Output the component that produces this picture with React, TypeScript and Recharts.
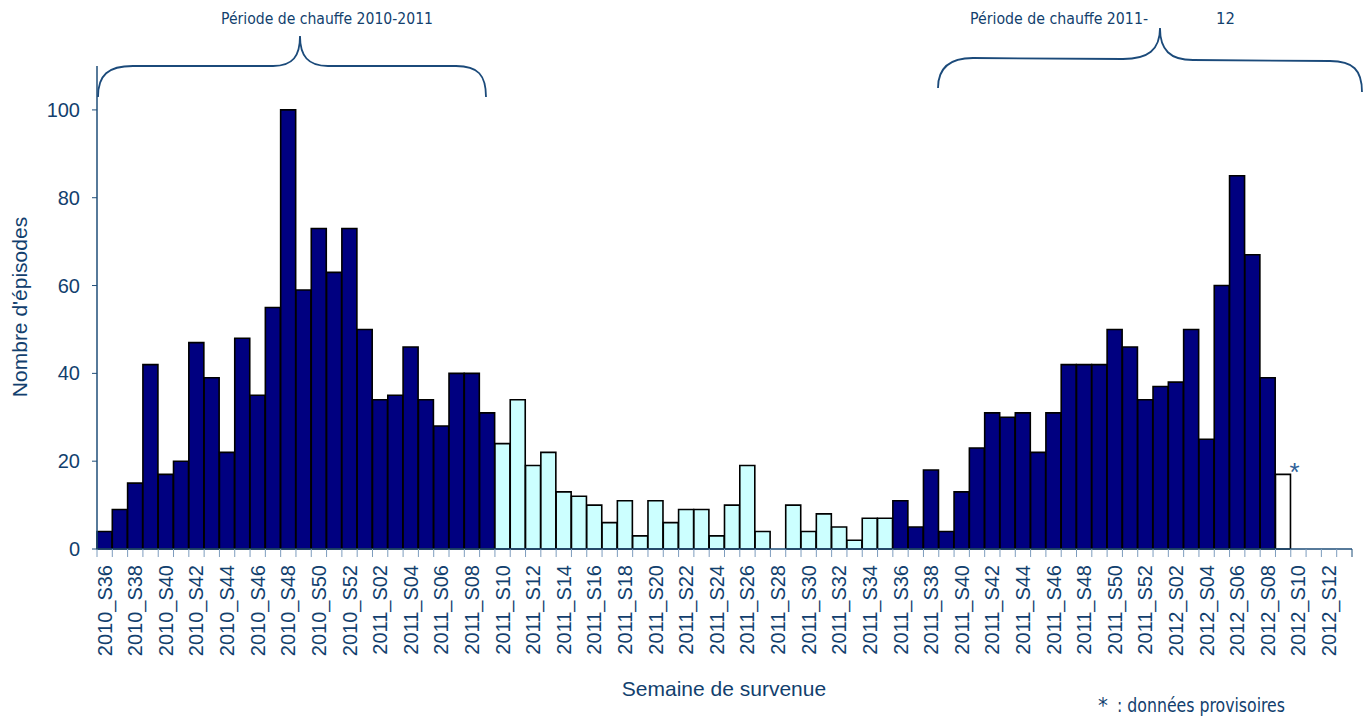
import React from "react"
import { BarChart, Bar, XAxis, YAxis, Cell, Rectangle } from "recharts"

// semaines de survenue (2010_S36 -> 2012_S13)
const weeks = [
  "2010_S36","2010_S37","2010_S38","2010_S39","2010_S40","2010_S41","2010_S42","2010_S43","2010_S44",
  "2010_S45","2010_S46","2010_S47","2010_S48","2010_S49","2010_S50","2010_S51","2010_S52",
  "2011_S01","2011_S02","2011_S03","2011_S04","2011_S05","2011_S06","2011_S07","2011_S08","2011_S09",
  "2011_S10","2011_S11","2011_S12","2011_S13","2011_S14","2011_S15","2011_S16","2011_S17","2011_S18",
  "2011_S19","2011_S20","2011_S21","2011_S22","2011_S23","2011_S24","2011_S25","2011_S26","2011_S27",
  "2011_S28","2011_S29","2011_S30","2011_S31","2011_S32","2011_S33","2011_S34","2011_S35","2011_S36",
  "2011_S37","2011_S38","2011_S39","2011_S40","2011_S41","2011_S42","2011_S43","2011_S44","2011_S45",
  "2011_S46","2011_S47","2011_S48","2011_S49","2011_S50","2011_S51","2011_S52",
  "2012_S01","2012_S02","2012_S03","2012_S04","2012_S05","2012_S06","2012_S07","2012_S08","2012_S09",
  "2012_S10","2012_S11","2012_S12","2012_S13",
]

const episodes2010 = [4, 9, 15, 42, 17, 20, 47, 39, 22, 48, 35, 55, 100, 59, 73, 63, 73]
const episodes2011 = [
  50, 34, 35, 46, 34, 28, 40, 40, 31, 24, 34, 19, 22, 13, 12, 10, 6, 11, 3, 11, 6, 9, 9, 3, 10, 19,
  4, 0, 10, 4, 8, 5, 2, 7, 7, 11, 5, 18, 4, 13, 23, 31, 30, 31, 22, 31, 42, 42, 42, 50, 46, 34,
]
const episodes2012 = [37, 38, 50, 25, 60, 85, 67, 39, 17, null, null, null, null]

const offSeasonStart = "2011_S10"
const season2Start = "2011_S36"
const provisional = ["2012_S09"]

const yTicks = [0, 20, 40, 60, 80, 100]

const values = [...episodes2010, ...episodes2011, ...episodes2012]
const data = weeks.map((w, i) => ({ week: w, value: values[i] }))

const NAVY = "#000080"
const CYAN = "#CCFFFF"
const TEXT = "#123F6E"
const AXIS = "#1F4E79"
const TICK = "#7D9CBD"

const W = 1363
const H = 702
const M = { top: 58, right: 19, bottom: 31, left: 29 }
const Y_W = 60
const X_H = 130
const PLOT_W = W - M.left - Y_W - M.right

const iOff = weeks.indexOf(offSeasonStart)
const iS2 = weeks.indexOf(season2Start)

function fillFor(i: number) {
  if (provisional.includes(weeks[i])) return "#FFFFFF"
  if (i >= iOff && i < iS2) return CYAN
  return NAVY
}

const XTick = (props: any) => {
  const { x, y, payload } = props
  const bw = PLOT_W / weeks.length
  const last = payload.value === weeks[weeks.length - 2]
  return (
    <g>
      <line x1={x - bw / 2} x2={x - bw / 2} y1={y} y2={y + 8} stroke={TICK} />
      <line x1={x + bw / 2} x2={x + bw / 2} y1={y} y2={y + 8} stroke={TICK} />
      {last && <line x1={x + bw * 1.5} x2={x + bw * 1.5} y1={y} y2={y + 8} stroke={AXIS} />}
      <text
        transform={`translate(${x},${y + 16}) rotate(-90)`}
        textAnchor="end"
        dominantBaseline="central"
        fontSize={20}
        fill={TEXT}
        fontFamily="'Liberation Sans', Arial, sans-serif"
      >
        {payload.value}
      </text>
    </g>
  )
}

// barre + astérisque pour les données provisoires
const BarShape = (props: any) => {
  const { x, y, width, payload } = props
  const star = payload && provisional.includes(payload.week)
  return (
    <g>
      <Rectangle {...props} />
      {star && (
        <text x={x + width + 4} y={y + 7} textAnchor="middle" fontSize={26} fill="#2F6199"
          fontFamily="'Liberation Sans', Arial, sans-serif">*</text>
      )}
    </g>
  )
}

const narrow = "'DejaVu Sans Condensed', 'Liberation Sans', sans-serif"

export default function App() {
  return (
    <div style={{ position: "relative", width: W, height: H + 8, fontFamily: "'Liberation Sans', Arial, sans-serif" }}>
      <BarChart width={W} height={H} data={data} margin={M} barCategoryGap={0}>
        <XAxis
          dataKey="week"
          interval={1}
          height={X_H}
          tick={<XTick />}
          tickLine={false}
          tickSize={0}
          tickMargin={0}
          axisLine={{ stroke: AXIS, strokeWidth: 1.5 }}
        />
        <YAxis
          width={Y_W}
          domain={[0, 110]}
          ticks={yTicks}
          tickSize={5}
          tickMargin={12}
          tickLine={{ stroke: AXIS }}
          axisLine={{ stroke: AXIS, strokeWidth: 1.5 }}
          tick={{ fontSize: 20, fill: TEXT }}
        />
        <Bar dataKey="value" stroke="#000" strokeWidth={1.6} isAnimationActive={false} shape={<BarShape />}>
          {data.map((d, i) => (
            <Cell key={d.week} fill={fillFor(i)} />
          ))}
        </Bar>
      </BarChart>
      <svg width={W} height={H + 8} style={{ position: "absolute", left: 0, top: 0, pointerEvents: "none" }}>
        <g fill="none" stroke="#1B4A7A" strokeWidth={1.8}>
          <path d="M90,89 C90,67 100,58 125,58 L265,58 C285,58 292,48 292,28 C292,48 300,58 320,58 L448,58 C470,58 478,67 478,89" />
          <path d="M930,80 C930,60 942,50 965,50 L1115,51 C1140,51 1152,42 1152,20 C1152,42 1162,52 1185,52 L1322,53 C1345,53 1354,62 1354,84" />
        </g>
        <g fill={TEXT} fontFamily={narrow} fontSize={16.5}>
          <text x={213} y={16} textLength={212} lengthAdjust="spacingAndGlyphs">Période de chauffe 2010-2011</text>
          <text x={962} y={16} textLength={178} lengthAdjust="spacingAndGlyphs">Période de chauffe 2011-</text>
          <text x={1208} y={16}>12</text>
          <text x={1090} y={705} fontSize={22}>*</text>
          <text x={1109} y={704} fontSize={19} textLength={168} lengthAdjust="spacingAndGlyphs">: données provisoires</text>
        </g>
        <text x={11} y={299} transform="rotate(-90 11 299)" textAnchor="middle" dominantBaseline="central"
          fontSize={21} fill={TEXT}>Nombre d'épisodes</text>
        <text x={716} y={680} textAnchor="middle" dominantBaseline="central" fontSize={21} fill={TEXT}>
          Semaine de survenue
        </text>
      </svg>
    </div>
  )
}
